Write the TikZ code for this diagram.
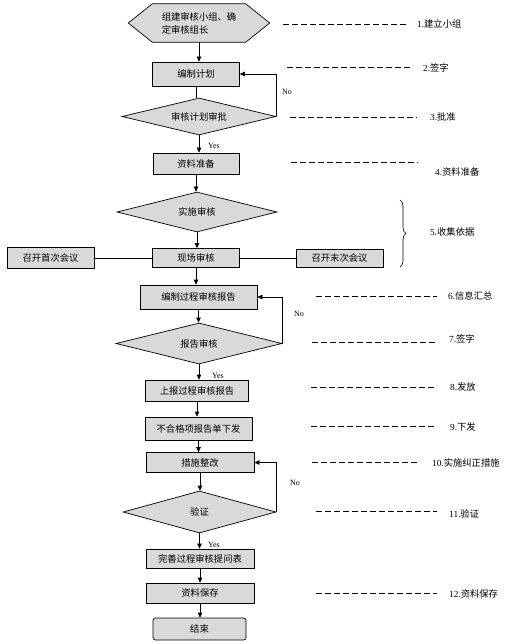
\documentclass[tikz,border=0pt]{standalone}
\usepackage{fontspec}
\setmainfont{Liberation Serif}
\newfontfamily\cjk{Noto Sans CJK SC}
\usetikzlibrary{shapes.geometric,arrows.meta,decorations.pathreplacing,backgrounds}
\definecolor{boxgray}{HTML}{D9D9D9}
\begin{document}
\begin{tikzpicture}[x=1pt,y=-1pt,
  proc/.style={draw, fill=boxgray, inner sep=0pt, line width=0.7pt, font=\cjk\fontsize{9.3}{11.5}\selectfont},
  dec/.style={diamond, aspect=4, draw, fill=boxgray, inner sep=0pt, line width=0.7pt, font=\cjk\fontsize{9.3}{11.5}\selectfont},
  arr/.style={-{Triangle[length=5pt,width=4.5pt]}, line width=0.7pt},
  plain/.style={line width=0.7pt},
  dline/.style={dash pattern=on 6pt off 3pt, line width=0.6pt},
  lab/.style={anchor=west, inner sep=0pt, font=\fontsize{9.3}{11}\selectfont},
  yn/.style={inner sep=0pt, font=\fontsize{8}{10}\selectfont}]
\useasboundingbox (0,0) rectangle (507,644);

% main column
\node[minimum width=141pt, minimum height=38pt, inner sep=0pt,
      align=left, font=\cjk\fontsize{9.3}{13}\selectfont] (n0) at (199,23) {组建审核小组、确\\定审核组长};
\begin{scope}[on background layer]
\draw[fill=boxgray, line width=0.7pt] (n0.west) -- ([xshift=24pt]n0.north west) -- ([xshift=-24pt]n0.north east)
  -- (n0.east) -- ([xshift=-24pt]n0.south east) -- ([xshift=24pt]n0.south west) -- cycle;
\end{scope}
\node[proc, minimum width=87pt, minimum height=24pt] (b1) at (196,74) {编制计划};
\node[dec, minimum width=154pt, minimum height=37pt] (d1) at (199,116.5) {审核计划审批};
\node[proc, minimum width=86pt, minimum height=21pt] (b2) at (196,163.5) {资料准备};
\node[dec, minimum width=160pt, minimum height=40pt] (d2) at (197,212) {实施审核};
\node[proc, minimum width=87pt, minimum height=19pt] (b3) at (196,258) {现场审核};
\node[proc, minimum width=87pt, minimum height=21pt] (lb) at (50.5,258) {召开首次会议};
\node[proc, minimum width=87pt, minimum height=18pt] (rb) at (339.5,258) {召开末次会议};
\node[proc, minimum width=117pt, minimum height=24pt] (b4) at (198.5,297) {编制过程审核报告};
\node[dec, minimum width=166pt, minimum height=41pt] (d3) at (199,343.5) {报告审核};
\node[proc, minimum width=103pt, minimum height=21pt] (b5) at (197,390.5) {上报过程审核报告};
\node[proc, minimum width=107pt, minimum height=23pt] (b6) at (198.5,428.5) {不合格项报告单下发};
\node[proc, minimum width=108pt, minimum height=20pt] (b7) at (200,462.5) {措施整改};
\node[dec, minimum width=153pt, minimum height=42pt] (d4) at (199.5,512) {验证};
\node[proc, minimum width=108pt, minimum height=19pt] (b8) at (200,558.5) {完善过程审核提问表};
\node[proc, minimum width=108pt, minimum height=20pt] (b9) at (200,593) {资料保存};
\node[proc, rounded corners=2.5pt, minimum width=93pt, minimum height=22pt] (e) at (199.5,629) {结束};

% flow
\draw[arr] (n0.south) -- (n0.south |- b1.north);
\draw[plain] (b1.south) -- (b1.south |- d1.north);
\draw[arr] (d1.south) -- (d1.south |- b2.north);
\draw[arr] (b2.south) -- (b2.south |- d2.north);
\draw[arr] (d2.south) -- (d2.south |- b3.north);
\draw[arr] (b3.south) -- (b3.south |- b4.north);
\draw[arr] (b4.south) -- (b4.south |- d3.north);
\draw[arr] (d3.south) -- (d3.south |- b5.north);
\draw[arr] (b5.south) -- (b5.south |- b6.north);
\draw[arr] (b6.south) -- (b6.south |- b7.north);
\draw[arr] (b7.south) -- (b7.south |- d4.north);
\draw[arr] (d4.south) -- (d4.south |- b8.north);
\draw[arr] (b8.south) -- (b8.south |- b9.north);
\draw[arr] (b9.south) -- (b9.south |- e.north);
\draw[plain] (lb.east) -- (b3.west);
\draw[plain] (b3.east) -- (rb.west);

% feedback loops
\draw[arr] (d1.east) |- (b1.east);
\draw[arr] (d3.east) |- (b4.east);
\draw[arr] (d4.east) |- (b7.east);
\node[yn] (no1) at (287,92) {No};
\node[yn] (no2) at (299,314) {No};
\node[yn] (no3) at (295,483) {No};
\node[yn] (y1) at (214,146) {Yes};
\node[yn] (y2) at (218,376) {Yes};
\node[yn] (y3) at (214,545) {Yes};

% brace
\coordinate (br1) at (400,200);
\coordinate (br2) at (400,267);
\draw[decorate, decoration={brace, amplitude=6pt}, line width=0.6pt] (br1) -- (br2);

% right labels
\node[lab] (l1) at (417,24) {1.{\cjk 建立小组}};
\node[lab] (l2) at (423,68) {2.{\cjk 签字}};
\node[lab] (l3) at (430,117) {3.{\cjk 批准}};
\node[lab] (l4) at (435,172) {4.{\cjk 资料准备}};
\node[lab] (l5) at (430,232) {5.{\cjk 收集依据}};
\node[lab] (l6) at (448,296) {6.{\cjk 信息汇总}};
\node[lab] (l7) at (449,339) {7.{\cjk 签字}};
\node[lab] (l8) at (450,387) {8.{\cjk 发放}};
\node[lab] (l9) at (450,427) {9.{\cjk 下发}};
\node[lab] (l10) at (432,463) {10.{\cjk 实施纠正措施}};
\node[lab] (l11) at (449,514) {11.{\cjk 验证}};
\node[lab] (l12) at (449,594) {12.{\cjk 资料保存}};

% dashed leaders
\coordinate (s1) at (283,24);  \coordinate (t1) at (408,24);
\coordinate (s2) at (287,67);  \coordinate (t2) at (413,67);
\coordinate (s3) at (290,117); \coordinate (t3) at (417,117);
\coordinate (s4) at (291,162); \coordinate (t4) at (418,162);
\coordinate (s6) at (316,296); \coordinate (t6) at (437,296);
\coordinate (s7) at (312,342); \coordinate (t7) at (437,342);
\coordinate (s8) at (311,387); \coordinate (t8) at (437,387);
\coordinate (s9) at (311,426); \coordinate (t9) at (437,426);
\coordinate (s10) at (312,462); \coordinate (t10) at (418,462);
\coordinate (s11) at (316,511); \coordinate (t11) at (437,511);
\coordinate (s12) at (316,593); \coordinate (t12) at (437,593);
\foreach \i in {1,2,3,4,6,7,8,9,10,11,12} {\draw[dline] (s\i) -- (t\i);}
\end{tikzpicture}
\end{document}
